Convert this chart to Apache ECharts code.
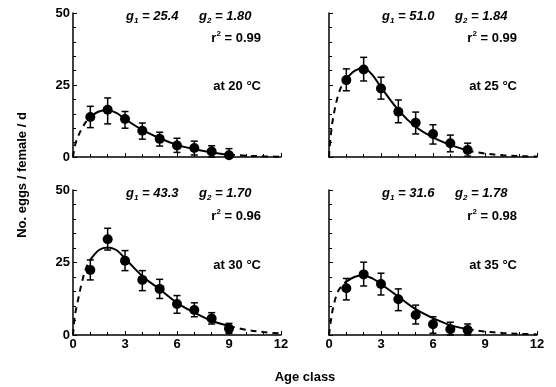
<!DOCTYPE html>
<html><head><meta charset="utf-8">
<script src="https://cdn.jsdelivr.net/npm/echarts@6/dist/echarts.min.js"></script>
<style>html,body{margin:0;padding:0;background:#fff}#c{width:556px;height:387px}</style>
</head><body><div id="c"></div>
<script>
// ---- data ----
const ages20 = [1,2,3,4,5,6,7,8,9];
const eggs20 = [13.9,16.4,13.2,9.1,6.3,4.0,3.1,1.9,0.6];
const hi20   = [17.6,20.5,15.8,11.8,8.6,6.5,5.5,3.9,2.9];
const lo20   = [10.2,11.5,10.0,6.2,3.8,1.6,0.7,0,0];

const ages25 = [1,2,3,4,5,6,7,8];
const eggs25 = [26.7,30.4,23.8,15.7,11.9,8.0,4.8,2.4];
const hi25   = [30.6,34.6,27.7,19.8,15.6,11.2,7.6,4.8];
const lo25   = [23.0,26.4,20.1,11.9,8.0,4.5,1.8,0.3];

const ages30 = [1,2,3,4,5,6,7,8,9];
const eggs30 = [22.4,33.0,25.6,19.0,15.9,10.7,8.6,5.7,2.2];
const hi30   = [25.9,36.8,29.1,22.2,19.2,13.6,11.1,7.7,4.0];
const lo30   = [19.0,29.3,22.2,15.3,12.6,7.5,6.3,3.8,0.5];

const ages35 = [1,2,3,4,5,6,7,8];
const eggs35 = [16.1,20.9,17.6,12.3,6.9,3.7,2.0,1.7];
const hi35   = [19.5,25.1,21.3,15.9,10.3,6.3,4.4,3.8];
const lo35   = [12.1,16.9,13.8,8.4,3.8,0.6,0,0];

// fitted curves
const curveX = [0,0.1,0.25,0.5,0.75,1,1.5,2,2.5,3,4,5,6,7,8,9,10,11,12];
const fit20 = [0,3.6,6.5,9.8,12.2,13.9,15.8,16.2,15.3,13.2,9.4,6.5,4.2,2.7,1.6,0.8,0.45,0.25,0.1];
const fit25 = [0,7.5,14,20.8,25,27.2,30,30.8,28.5,24.2,16.3,10.5,6.8,4.2,2.2,1.2,0.6,0.3,0.15];
const fit30 = [0,6.3,10.9,17.8,23,25.9,29.3,30.2,29.3,26.4,20.3,15.8,11.1,7.7,4.9,3.1,1.8,1.0,0.5];
const fit35 = [0,4.6,9.8,14.8,17.0,18.4,20.1,20.5,19.5,17.6,13.2,8.9,5.8,3.4,2.0,1.2,0.7,0.4,0.2];

const xTicks = [0,3,6,9,12];
const yTicks = [0,25,50];

const panels = [
  {ages:ages20, eggs:eggs20, hi:hi20, lo:lo20, fit:fit20, g1:'25.4', g2:'1.80', r2:'0.99', t:'at 20 °C'},
  {ages:ages25, eggs:eggs25, hi:hi25, lo:lo25, fit:fit25, g1:'51.0', g2:'1.84', r2:'0.99', t:'at 25 °C'},
  {ages:ages30, eggs:eggs30, hi:hi30, lo:lo30, fit:fit30, g1:'43.3', g2:'1.70', r2:'0.96', t:'at 30 °C'},
  {ages:ages35, eggs:eggs35, hi:hi35, lo:lo35, fit:fit35, g1:'31.6', g2:'1.78', r2:'0.98', t:'at 35 °C'}
];

// ---- layout ----
const FONT = '"Liberation Sans", Arial, sans-serif';
const grids = [
  {left:73, top:13, width:208, height:144},
  {left:329, top:13, width:208, height:144},
  {left:73, top:190, width:208, height:145},
  {left:329, top:190, width:208, height:145}
];
const lineCol = '#000';

const xAxes = [], yAxes = [], series = [], graphics = [];
grids.forEach((g, i) => {
  const bottom = i >= 2, left = i % 2 === 0;
  xAxes.push({
    type:'value', gridIndex:i, min:xTicks[0], max:xTicks[xTicks.length-1], interval:3,
    axisLine:{show:true, onZero:false, lineStyle:{color:lineCol, width:1.5}},
    axisTick:{show:true, inside:true, length:4, lineStyle:{color:lineCol, width:1}},
    minorTick:{show:true, splitNumber:3, length:3, lineStyle:{color:lineCol, width:1}},
    splitLine:{show:false},
    axisLabel:{show:bottom, color:'#000', fontFamily:FONT, fontWeight:'bold', fontSize:13, margin:3}
  });
  yAxes.push({
    type:'value', gridIndex:i, min:yTicks[0], max:yTicks[yTicks.length-1], interval:25,
    axisLine:{show:true, onZero:false, lineStyle:{color:lineCol, width:1.5}},
    axisTick:{show:true, inside:true, length:4, lineStyle:{color:lineCol, width:1}},
    minorTick:{show:true, splitNumber:5, length:3, lineStyle:{color:lineCol, width:1}},
    splitLine:{show:false},
    axisLabel:{show:left, color:'#000', fontFamily:FONT, fontWeight:'bold', fontSize:13, margin:3}
  });
});

panels.forEach((p, i) => {
  const first = p.ages[0], last = p.ages[p.ages.length-1];
  const pts = curveX.map((x, k) => [x, p.fit[k]]);
  const solid = pts.filter(d => d[0] >= first && d[0] <= last);
  const dashA = pts.filter(d => d[0] <= first);
  const dashB = pts.filter(d => d[0] >= last);
  series.push({type:'line', xAxisIndex:i, yAxisIndex:i, data:solid, smooth:0.35, showSymbol:false, symbol:'none',
    lineStyle:{color:'#000', width:2}, z:3, silent:true});
  [dashA, dashB].forEach(d => series.push({type:'line', xAxisIndex:i, yAxisIndex:i, data:d, smooth:0.35, symbol:'none',
    lineStyle:{color:'#000', width:2, type:[6,5]}, z:3, silent:true}));
  series.push({type:'custom', xAxisIndex:i, yAxisIndex:i, z:4, silent:true,
    data:p.ages.map((a, k) => [a, p.lo[k], p.hi[k]]),
    renderItem:(params, api) => {
      const lo = api.coord([api.value(0), api.value(1)]);
      const hi = api.coord([api.value(0), api.value(2)]);
      const w = 3.5;
      const st = {stroke:'#000', lineWidth:1.5};
      return {type:'group', children:[
        {type:'line', shape:{x1:hi[0], y1:hi[1], x2:lo[0], y2:lo[1]}, style:st},
        {type:'line', shape:{x1:hi[0]-w, y1:hi[1], x2:hi[0]+w, y2:hi[1]}, style:st},
        {type:'line', shape:{x1:lo[0]-w, y1:lo[1], x2:lo[0]+w, y2:lo[1]}, style:st}
      ]};
    }});
  series.push({type:'scatter', xAxisIndex:i, yAxisIndex:i, z:5, silent:true, symbol:'circle', symbolSize:10,
    itemStyle:{color:'#000', opacity:1}, data:p.ages.map((a, k) => [a, p.eggs[k]])});

  const g = grids[i];
  const right = g.left + g.width - 20;
  const topY = g.top;
  const rich = {
    g:{fontFamily:FONT, fontWeight:'bold', fontStyle:'italic', fontSize:13, fill:'#000', lineHeight:16},
    s:{fontFamily:FONT, fontWeight:'bold', fontStyle:'italic', fontSize:8, fill:'#000', lineHeight:16, verticalAlign:'bottom', padding:[6,0,0,0]},
    r:{fontFamily:FONT, fontWeight:'bold', fontSize:13, fill:'#000', lineHeight:16},
    p:{fontFamily:FONT, fontWeight:'bold', fontSize:8, fill:'#000', lineHeight:16, verticalAlign:'top', padding:[0,0,6,0]}
  };
  graphics.push({type:'text', left:g.left + 53, top:topY - 3, style:{text:'{g|g}{s|1}{g| = ' + p.g1 + '}', rich:rich}, z:10});
  graphics.push({type:'text', left:g.left + 126, top:topY - 3, style:{text:'{g|g}{s|2}{g| = ' + p.g2 + '}', rich:rich}, z:10});
  graphics.push({type:'text', right:556 - right, top:topY + 17 + (i >= 2 ? 1 : 0), style:{text:'{r|r}{p|2}{r| = ' + p.r2 + '}', rich:rich}, z:10});
  graphics.push({type:'text', right:556 - right, top:topY + 67 + (i >= 2 ? 2 : 0), style:{text:p.t, font:'bold 13px ' + FONT, fill:'#000'}, z:10});
});

graphics.push({type:'text', x:22, y:175, rotation:Math.PI/2,
  style:{text:'No. eggs / female / d', font:'bold 13px ' + FONT, fill:'#000', textAlign:'center', textVerticalAlign:'middle'}});
graphics.push({type:'text', x:305, y:377, style:{text:'Age class', font:'bold 13px ' + FONT, fill:'#000', textAlign:'center', textVerticalAlign:'middle'}});

const chart = echarts.init(document.getElementById('c'), null, {renderer:'canvas'});
chart.setOption({
  animation:false,
  grid:grids,
  xAxis:xAxes,
  yAxis:yAxes,
  series:series,
  graphic:graphics
});
</script></body></html>
